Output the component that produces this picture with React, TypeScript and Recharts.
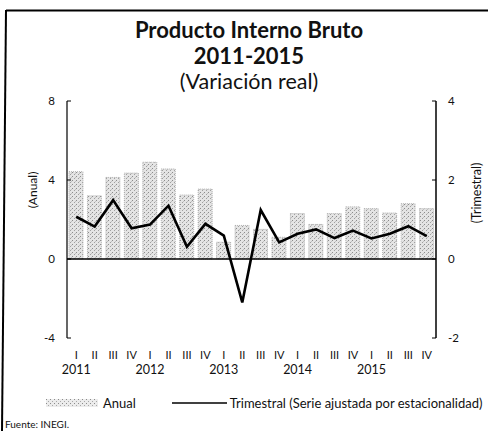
import { ComposedChart, Bar, Line, XAxis, YAxis, ReferenceLine } from 'recharts'

const quarters = ['I', 'II', 'III', 'IV', 'I', 'II', 'III', 'IV', 'I', 'II', 'III', 'IV', 'I', 'II', 'III', 'IV', 'I', 'II', 'III', 'IV']
const years = ['2011', '2012', '2013', '2014', '2015']

// variacion anual (eje izq.)
const anual = [4.42, 3.2, 4.13, 4.35, 4.9, 4.56, 3.24, 3.54, 0.85, 1.7, 1.5, 1.1, 2.3, 1.75, 2.3, 2.64, 2.55, 2.33, 2.8, 2.55]
// variacion trimestral, serie desestacionalizada (eje der.)
const trimestral = [1.07, 0.82, 1.49, 0.78, 0.87, 1.35, 0.31, 0.89, 0.59, -1.1, 1.24, 0.42, 0.64, 0.75, 0.53, 0.72, 0.52, 0.64, 0.83, 0.58]

const leftTicks = [-4, 0, 4, 8]
const rightTicks = [-2, 0, 2, 4]

const FONT = 'Lato, "Open Sans", sans-serif'

const data = quarters.map((q, i) => ({
  q,
  year: i % 4 === 0 ? years[i / 4] : '',
  anual: anual[i],
  trimestral: trimestral[i],
}))

function LeftTick({ x, y, payload }: any) {
  return (
    <g>
      <line x1={x + 12} x2={x + 16} y1={y} y2={y} stroke="#000" strokeWidth={1} />
      <text x={x} y={y} dy={4} textAnchor="end" fontSize={11.5} fill="#111" fontFamily={FONT}>
        {payload.value}
      </text>
    </g>
  )
}

function RightTick({ x, y, payload }: any) {
  return (
    <g>
      <line x1={x - 12} x2={x - 16} y1={y} y2={y} stroke="#000" strokeWidth={1} />
      <text x={x} y={y} dy={4} textAnchor="start" fontSize={11.5} fill="#111" fontFamily={FONT}>
        {payload.value}
      </text>
    </g>
  )
}

function QuarterTick({ x, y, payload, index }: any) {
  const yr = data[index] ? data[index].year : ''
  return (
    <g>
      <text x={x} y={y} dy={21} textAnchor="middle" fontSize={11} fill="#111" fontFamily={FONT}>
        {payload.value}
      </text>
      {yr && (
        <text x={x} y={y} dy={36} textAnchor="middle" fontSize={12.5} fill="#111" fontFamily={FONT}>
          {yr}
        </text>
      )}
    </g>
  )
}

export default function App() {
  return (
    <div style={{ position: 'absolute', left: 0, top: 0, width: 488, height: 431, background: '#fff', fontFamily: FONT }}>
      <svg width={488} height={431} style={{ position: 'absolute', left: 0, top: 0 }}>
        <line x1={6} y1={10.5} x2={488} y2={10.5} stroke="#000" strokeWidth={2} />
        <line x1={6} y1={10} x2={2} y2={431} stroke="#000" strokeWidth={2} />
      </svg>

      <div style={{ position: 'absolute', left: 0, width: 498, top: 17, textAlign: 'center', color: '#111' }}>
        <div style={{ fontSize: 22, fontWeight: 700, lineHeight: '26px' }}>Producto Interno Bruto</div>
        <div style={{ fontSize: 22, fontWeight: 700, lineHeight: '26px' }}>2011-2015</div>
        <div style={{ fontSize: 21.5, lineHeight: '24px' }}>(Variación real)</div>
      </div>

      <div style={{ position: 'absolute', left: 0, top: 0 }}>
        <ComposedChart width={488} height={431} data={data} margin={{ top: 101, right: 22, bottom: 53, left: 37 }}>
          <defs>
            <pattern id="dots" width="4" height="4" patternUnits="userSpaceOnUse">
              <rect width="4" height="4" fill="#e4e4e4" />
              <rect x="0" y="0" width="1" height="1" fill="#8c8c8c" />
              <rect x="2" y="2" width="1" height="1" fill="#a0a0a0" />
              <rect x="3" y="1" width="1" height="1" fill="#c0c0c0" />
            </pattern>
          </defs>
          <XAxis dataKey="q" axisLine={false} tickLine={false} tickSize={0} tickMargin={0} height={40} interval={0} tick={<QuarterTick />} />
          <YAxis
            yAxisId="left"
            width={30}
            domain={[-4, 8]}
            ticks={leftTicks}
            tickLine={false}
            tickSize={0}
            tickMargin={12}
            axisLine={{ stroke: '#000', strokeWidth: 1.2 }}
            tick={<LeftTick />}
          />
          <YAxis
            yAxisId="right"
            orientation="right"
            width={30}
            domain={[-2, 4]}
            ticks={rightTicks}
            tickLine={false}
            tickSize={0}
            tickMargin={12}
            axisLine={{ stroke: '#000', strokeWidth: 1.5 }}
            tick={<RightTick />}
          />
          <Bar yAxisId="left" dataKey="anual" barSize={14} fill="url(#dots)" stroke="#a8a8a8" strokeDasharray="1 1" strokeWidth={0.9} isAnimationActive={false} />
          <ReferenceLine yAxisId="left" y={0} stroke="#000" strokeWidth={1.5} />
          <Line yAxisId="right" dataKey="trimestral" type="linear" stroke="#000" strokeWidth={2.6} dot={false} isAnimationActive={false} />
        </ComposedChart>
      </div>

      <div style={{ position: 'absolute', left: 32, top: 190, transform: 'translate(-50%, -50%) rotate(-90deg)', fontSize: 12, color: '#111', whiteSpace: 'nowrap' }}>
        (Anual)
      </div>
      <div style={{ position: 'absolute', left: 476, top: 193, transform: 'translate(-50%, -50%) rotate(-90deg)', fontSize: 12.5, color: '#111', whiteSpace: 'nowrap' }}>
        (Trimestral)
      </div>

      <div style={{ position: 'absolute', left: 46, top: 395, display: 'flex', alignItems: 'center', fontSize: 13, color: '#111', whiteSpace: 'nowrap' }}>
        <svg width={52} height={8} style={{ marginRight: 5 }}>
          <defs>
            <pattern id="dots2" width="4" height="4" patternUnits="userSpaceOnUse">
              <rect width="4" height="4" fill="#ececec" />
              <rect x="0" y="0" width="1" height="1" fill="#8c8c8c" />
              <rect x="2" y="2" width="1" height="1" fill="#a8a8a8" />
            </pattern>
          </defs>
          <rect width={52} height={8} fill="url(#dots2)" />
        </svg>
        <span>Anual</span>
        <svg width={55} height={8} style={{ marginLeft: 36, marginRight: 3 }}>
          <line x1={0} x2={55} y1={4} y2={4} stroke="#000" strokeWidth={1.6} />
        </svg>
        <span>Trimestral (Serie ajustada por estacionalidad)</span>
      </div>

      <div style={{ position: 'absolute', left: 5, top: 418, fontSize: 10, color: '#111' }}>Fuente: INEGI.</div>
    </div>
  )
}
